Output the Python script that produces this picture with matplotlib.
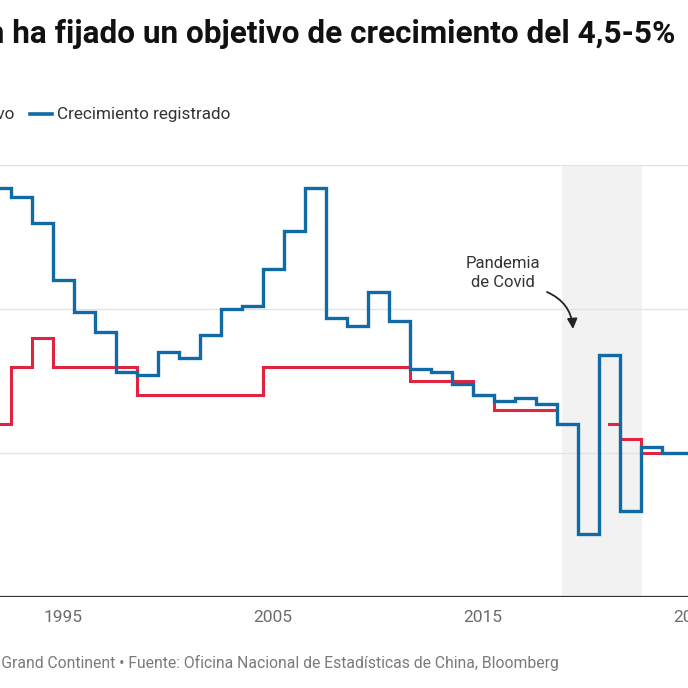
import numpy as np
import matplotlib
matplotlib.use("Agg")
import matplotlib.pyplot as plt
from matplotlib.lines import Line2D

plt.rcParams['font.family'] = ['Roboto', 'DejaVu Sans']

# ------------------------------------------------------------
# datos
# ------------------------------------------------------------
years = list(range(1992, 2026))
growth = [14.2, 13.9, 13.0, 11.0, 9.9, 9.2, 7.8, 7.7, 8.5, 8.3,
          9.1, 10.0, 10.1, 11.4, 12.7, 14.2, 9.7, 9.4, 10.6, 9.6,
          7.9, 7.8, 7.4, 7.0, 6.8, 6.9, 6.7, 6.0, 2.2, 8.4,
          3.0, 5.2, 5.0, 5.0]
target = [6.0, 8.0, 9.0, 8.0, 8.0, 8.0, 8.0, 7.0, 7.0, 7.0,
          7.0, 7.0, 7.0, 8.0, 8.0, 8.0, 8.0, 8.0, 8.0, 8.0,
          7.5, 7.5, 7.5, 7.0, 6.5, 6.5, 6.5, 6.0, np.nan, 6.0,
          5.5, 5.0, 5.0, 5.0]
covid_span = (2018.75, 2022.55)
xticks = [1995, 2005, 2015, 2025]
yticks = [0, 5, 10, 15]

BLUE = "#0f6aa6"
RED = "#e0243f"

W, H = 688, 688
fig = plt.figure(figsize=(W / 100, H / 100), dpi=100)

# el eje sobresale por la derecha (recorte del original)
px_per_year = 21.0
ax_w = 760
ax = fig.add_axes([0, (H - 597) / H, ax_w / W, (597 - 165) / H])
ax.set_xlim(1992, 1992 + ax_w / px_per_year)
ax.set_ylim(0, 15)


def px_to_data(px, py):
    # coordenadas de píxel (desde arriba a la izquierda) -> datos
    return 1992 + px / px_per_year, (597 - py) / (432 / 15)


ax.axvspan(*covid_span, color="#f2f2f2", zorder=0, lw=0)
for y in yticks[1:]:
    ax.axhline(y, color="#e3e3e3", lw=1.0, zorder=1)
ax.axhline(0, color="#333333", lw=1.6, zorder=4)


def step_runs(x, y, **kw):
    # cada tramo sin huecos se dibuja por separado (como curveStep de d3)
    x = np.asarray(x, float)
    y = np.asarray(y, float)
    ok = ~np.isnan(y)
    start = None
    for i in range(len(y) + 1):
        if i < len(y) and ok[i]:
            if start is None:
                start = i
        elif start is not None:
            ax.step(x[start:i], y[start:i], where="mid", **kw)
            start = None


step_runs(years, target, color=RED, lw=2.2, zorder=2, solid_joinstyle="miter")
step_runs(years, growth, color=BLUE, lw=2.4, zorder=3, solid_joinstyle="miter")

for s in ax.spines.values():
    s.set_visible(False)
ax.set_yticks([])
ax.set_xticks(xticks)
ax.tick_params(axis="x", length=0, pad=9, labelsize=12.5, labelcolor="#6b6b6b")

# anotación covid
ax.text(*px_to_data(503, 273), "Pandemia\nde Covid", ha="center", va="center",
        fontsize=12, color="#333333", linespacing=1.3)
ax.annotate("", xy=px_to_data(573, 329), xytext=px_to_data(547, 292),
            arrowprops=dict(arrowstyle="-|>", color="#222222", lw=1.3,
                            mutation_scale=15, shrinkA=0, shrinkB=0,
                            connectionstyle="arc3,rad=-0.3"))

# título (recortado por la izquierda)
fig.text(675 / W, 1 - 43 / H, "Pekín ha fijado un objetivo de crecimiento del 4,5-5%",
         ha="right", va="baseline", fontsize=22.7, fontweight="bold", color="#111111")

# leyenda manual
ly = 1 - 114 / H
fig.text(14 / W, ly, "Objetivo", ha="right", va="center", fontsize=12.3, color="#333333")
fig.add_artist(Line2D([30 / W, 52 / W], [ly, ly], color=BLUE, lw=2.6))
fig.text(57 / W, ly, "Crecimiento registrado", ha="left", va="center",
         fontsize=12.3, color="#333333")

# fuente
fig.text(559 / W, 1 - 663 / H,
         "Gráfico: Le Grand Continent • Fuente: Oficina Nacional de Estadísticas de China, Bloomberg",
         ha="right", va="center", fontsize=11.3, color="#7a7a7a")

fig.savefig("out.png", dpi=100)
plt.close(fig)
